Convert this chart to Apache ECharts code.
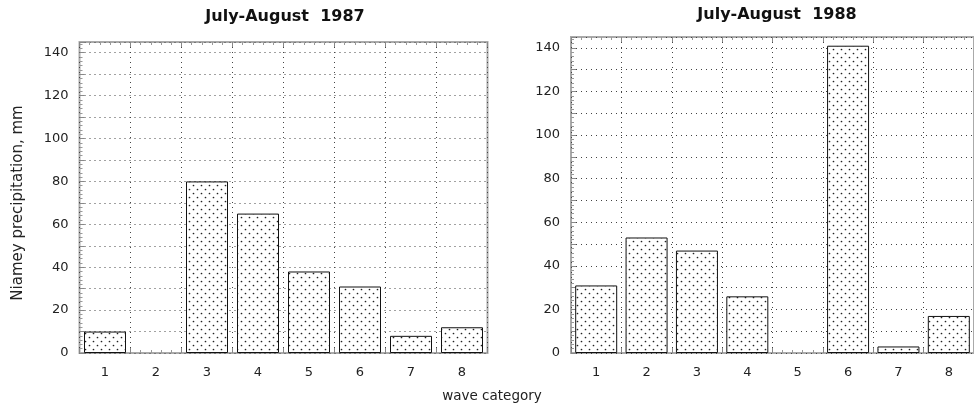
<!DOCTYPE html>
<html><head><meta charset="utf-8">
<script src="https://cdn.jsdelivr.net/npm/echarts@6/dist/echarts.min.js"></script>
<style>html,body{margin:0;padding:0;background:#fff}#c{width:974px;height:410px}</style>
</head><body><div id="c"></div>
<script>
const categories = ['1','2','3','4','5','6','7','8'];
const precip1987 = [10, 0, 80, 65, 38, 31, 8, 12];
const precip1988 = [31, 53, 47, 26, 0, 141, 3, 17];
const yTickLabels = [0, 20, 40, 60, 80, 100, 120, 140];
const titles = ['July-August  1987', 'July-August  1988'];
const yName = 'Niamey precipitation, mm';
const xName = 'wave category';

// stipple pattern for bars
const pc = document.createElement('canvas');
pc.width = 8; pc.height = 8;
const g = pc.getContext('2d');
g.fillStyle = '#fff'; g.fillRect(0, 0, 8, 8);
g.fillStyle = '#222';
g.beginPath(); g.arc(1.5, 1.5, 0.85, 0, Math.PI * 2); g.fill();
g.beginPath(); g.arc(5.5, 5.5, 0.85, 0, Math.PI * 2); g.fill();
const pattern = { image: pc, repeat: 'repeat' };

const FONT = 'DejaVu Sans';
const grids = [
  { left: 79.5, top: 42, width: 408, height: 311 },
  { left: 571, top: 37, width: 410, height: 316 }
];

function yAxisFor(i) {
  return {
    type: 'value', gridIndex: i, min: 0, max: 145, interval: 10,
    axisLine: { show: false },
    axisTick: { show: true, inside: true, length: 5, lineStyle: { color: '#888' } },
    minorTick: { show: true, splitNumber: 5, length: 3, lineStyle: { color: '#999' } },
    axisLabel: {
      margin: 11, fontFamily: FONT, fontSize: 13, color: '#222', showMaxLabel: false,
      formatter: v => yTickLabels.includes(v) ? String(v) : ''
    },
    splitLine: { show: true, lineStyle: { color: '#444', width: 1, type: [1, 4] } }
  };
}
function catAxisFor(i) {
  return {
    type: 'category', gridIndex: i, data: categories, boundaryGap: true,
    axisLine: { show: false }, axisTick: { show: false },
    axisLabel: { margin: 13, fontFamily: FONT, fontSize: 13, color: '#222' },
    splitLine: { show: true, lineStyle: { color: '#444', width: 1, type: [1, 4] } }
  };
}
function tickAxisFor(i, pos) {
  return {
    type: 'value', gridIndex: i, position: pos, min: 0, max: 40, interval: 5,
    axisLine: { show: false }, axisLabel: { show: false }, splitLine: { show: false },
    axisTick: { show: true, inside: true, length: 5, lineStyle: { color: '#888' } },
    minorTick: { show: true, splitNumber: 5, length: 3, lineStyle: { color: '#999' } }
  };
}
const barItems = arr => arr.map(v => v === 0
  ? { value: v, itemStyle: { borderWidth: 0, opacity: 0 } }
  : v);

const chart = echarts.init(document.getElementById('c'), null, { renderer: 'canvas' });
chart.setOption({
  animation: false,
  backgroundColor: '#fff',
  grid: grids.map(gr => Object.assign({ show: true, borderColor: '#aaa', borderWidth: 2, backgroundColor: '#fff' }, gr)),
  xAxis: [catAxisFor(0), catAxisFor(1), tickAxisFor(0, 'top'), tickAxisFor(0, 'bottom'), tickAxisFor(1, 'top'), tickAxisFor(1, 'bottom')],
  yAxis: [yAxisFor(0), yAxisFor(1)],
  series: [
    { type: 'bar', xAxisIndex: 0, yAxisIndex: 0, data: barItems(precip1987), barWidth: 42, silent: true,
      itemStyle: { color: pattern, borderColor: '#111', borderWidth: 1 } },
    { type: 'bar', xAxisIndex: 1, yAxisIndex: 1, data: barItems(precip1988), barWidth: 42, silent: true,
      itemStyle: { color: pattern, borderColor: '#111', borderWidth: 1 } }
  ],
  graphic: [
    { type: 'text', x: 285, y: 17, style: { text: titles[0], font: 'bold 16px "' + FONT + '"', fill: '#111', textAlign: 'center', textVerticalAlign: 'middle' } },
    { type: 'text', x: 777, y: 15, style: { text: titles[1], font: 'bold 16px "' + FONT + '"', fill: '#111', textAlign: 'center', textVerticalAlign: 'middle' } },
    { type: 'text', x: 18, y: 203, rotation: Math.PI / 2, style: { text: yName, font: '15px "' + FONT + '"', fill: '#222', textAlign: 'center', textVerticalAlign: 'middle' } },
    { type: 'text', x: 492, y: 396, style: { text: xName, font: '13.5px "' + FONT + '"', fill: '#222', textAlign: 'center', textVerticalAlign: 'middle' } }
  ]
});
</script>
</body></html>
